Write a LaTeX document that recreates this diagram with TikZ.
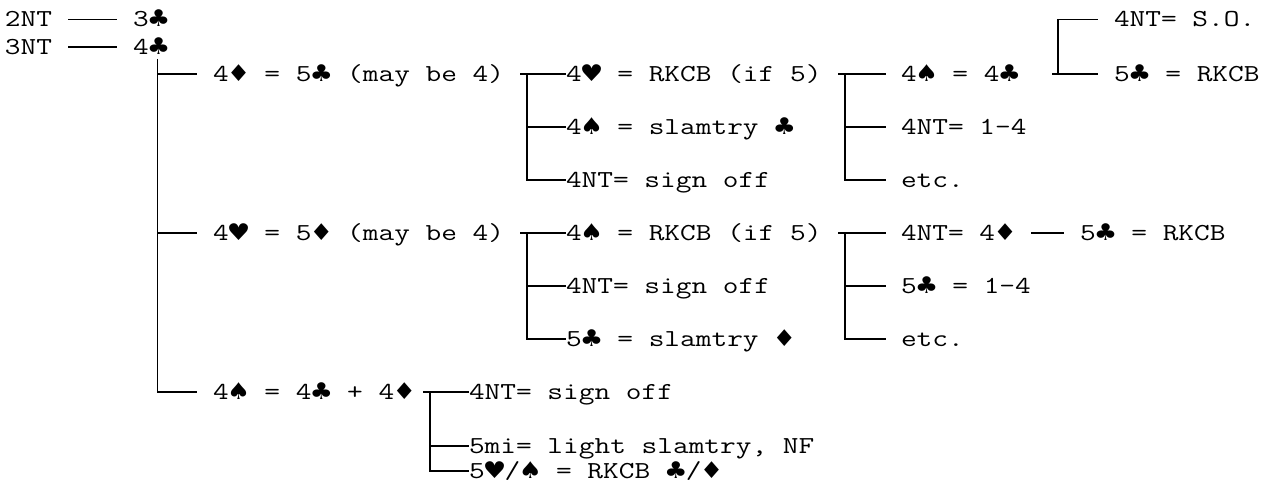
\documentclass[tikz,border=0pt]{standalone}
\usepackage{fontspec}
\usepackage{graphicx}
\newfontfamily\suitfnt[Scale=0.86]{DejaVu Sans}
\newcommand\suitbox[1]{\makebox[20pt]{\scalebox{1}[1.1]{\suitfnt #1}}}
\newcommand\suitC{\suitbox{♣}}
\newcommand\suitD{\suitbox{♦}}
\newcommand\suitH{\suitbox{♥}}
\newcommand\suitS{\suitbox{♠}}
\newcommand\sq[1]{\scalebox{1}[0.8]{#1}}
\begin{document}
\begin{tikzpicture}[x=1pt,y=-1pt,
  txt/.style={anchor=west, inner sep=0pt, outer sep=0pt,
    font=\ttfamily\fontsize{30.48pt}{36pt}\selectfont,
    text height=15pt, text depth=0pt},
  conn/.style={line width=1.7pt}]
\useasboundingbox (0,0) rectangle (1272,484);

% opening lines
\node[txt] (a0) at (5,19.5) {\sq{2NT}};
\node[txt] (a1) at (133,19.5) {\sq{3\suitC}};
\node[txt] (b0) at (5,47) {\sq{3NT}};
\node[txt] (b1) at (133,47) {\sq{4\suitC}};
\draw[conn] ([xshift=16pt]a0.east) -- ([xshift=-16pt]a1.west);
\draw[conn] ([xshift=16pt]b0.east) -- ([xshift=-16pt]b1.west);

% first level
\coordinate (tk) at (157.5,59);
\node[txt] (d) at (213,74) {\sq{4\suitD{} = 5\suitC{} (may be 4)}};
\node[txt] (h) at (213,233) {\sq{4\suitH{} = 5\suitD{} (may be 4)}};
\node[txt] (s) at (213,392) {\sq{4\suitS{} = 4\suitC{} + 4\suitD}};
\draw[conn] (tk) |- ([xshift=-16pt]s.west);
\draw[conn] (tk |- d.west) -- ([xshift=-16pt]d.west);
\draw[conn] (tk |- h.west) -- ([xshift=-16pt]h.west);

% under 4D
\coordinate (j1) at (527,74);
\node[txt] (d1) at (566,74) {\sq{4\suitH{} = RKCB (if 5)}};
\node[txt] (d2) at (566,127) {\sq{4\suitS{} = slamtry \suitC}};
\node[txt] (d3) at (566,180) {\sq{4NT= sign off}};
\draw[conn] ([xshift=-7pt]j1) -- (d1.west);
\draw[conn] (j1) |- (d3.west);
\draw[conn] (j1 |- d2.west) -- (d2.west);

\coordinate (j2) at (845,74);
\node[txt] (d11) at (901,74) {\sq{4\suitS{} = 4\suitC}};
\node[txt] (d12) at (901,127) {\sq{4NT= 1-4}};
\node[txt] (d13) at (901,180) {\sq{etc.}};
\draw[conn] ([xshift=-7pt]j2) -- ([xshift=-15pt]d11.west);
\draw[conn] (j2) |- ([xshift=-15pt]d13.west);
\draw[conn] (j2 |- d12.west) -- ([xshift=-15pt]d12.west);

\coordinate (j3) at (1058,74);
\node[txt] (d111) at (1114,19.5) {\sq{4NT= S.O.}};
\node[txt] (d112) at (1114,74) {\sq{5\suitC{} = RKCB}};
\draw[conn] ([xshift=-6pt]j3) -- ([xshift=-16pt]d112.west);
\draw[conn] (j3) |- ([xshift=-16pt]d111.west);

% under 4H
\coordinate (j4) at (527,233);
\node[txt] (h1) at (566,233) {\sq{4\suitS{} = RKCB (if 5)}};
\node[txt] (h2) at (566,286) {\sq{4NT= sign off}};
\node[txt] (h3) at (566,339) {\sq{5\suitC{} = slamtry \suitD}};
\draw[conn] ([xshift=-7pt]j4) -- (h1.west);
\draw[conn] (j4) |- (h3.west);
\draw[conn] (j4 |- h2.west) -- (h2.west);

\coordinate (j5) at (845,233);
\node[txt] (h11) at (901,233) {\sq{4NT= 4\suitD}};
\node[txt] (h12) at (901,286) {\sq{5\suitC{} = 1-4}};
\node[txt] (h13) at (901,339) {\sq{etc.}};
\node[txt] (h111) at (1080,233) {\sq{5\suitC{} = RKCB}};
\draw[conn] ([xshift=-7pt]j5) -- ([xshift=-15pt]h11.west);
\draw[conn] (j5) |- ([xshift=-15pt]h13.west);
\draw[conn] (j5 |- h12.west) -- ([xshift=-15pt]h12.west);
\draw[conn] ([xshift=16pt]h11.east) -- ([xshift=-16pt]h111.west);

% under 4S
\coordinate (j6) at (430,392);
\node[txt] (s1) at (469,392) {\sq{4NT= sign off}};
\node[txt] (s2) at (469,446) {\sq{5mi= light slamtry, NF}};
\node[txt] (s3) at (469,471) {\sq{5\suitH/\suitS{} = RKCB \suitC/\suitD}};
\draw[conn] ([xshift=-7pt]j6) -- (s1.west);
\draw[conn] (j6) |- (s3.west);
\draw[conn] (j6 |- s2.west) -- (s2.west);
\end{tikzpicture}
\end{document}
